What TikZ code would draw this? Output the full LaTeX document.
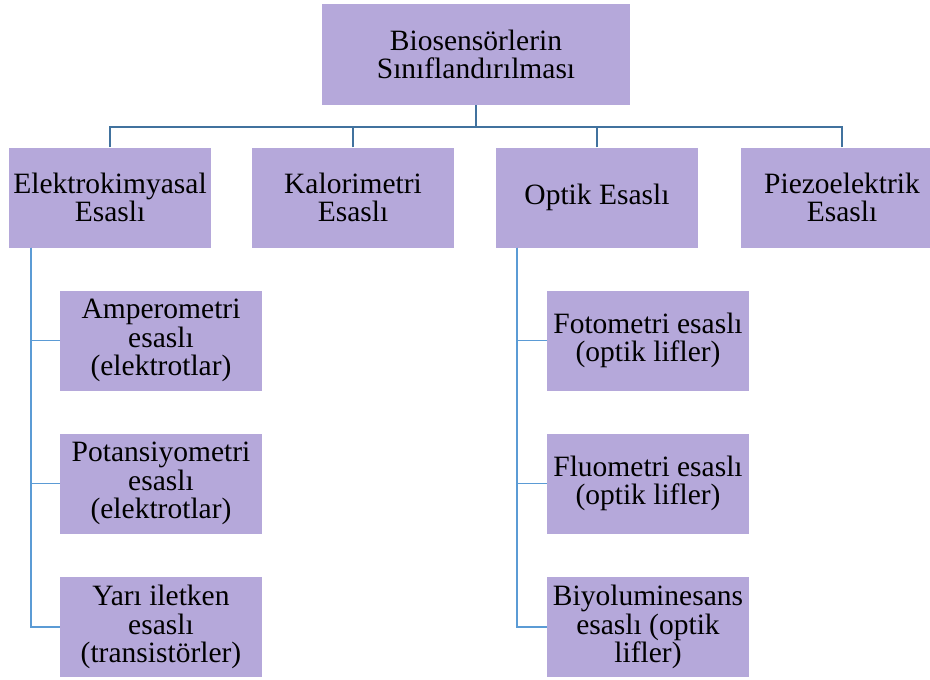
\documentclass[tikz,border=0pt]{standalone}
\usepackage{fontspec}
\setmainfont{Liberation Serif}
\usepackage{tikz}
\definecolor{boxfill}{HTML}{B5A8DA}
\definecolor{busline}{HTML}{41729E}
\definecolor{subline}{HTML}{5B9BD5}

\begin{document}
\begin{tikzpicture}[x=1pt, y=-1pt, align=center,
		box/.style = {fill=boxfill, draw=none, inner sep=1pt,
			minimum width=202pt, minimum height=100pt,
			font=\fontsize{29.5}{28.5}\selectfont},
		bus/.style = {draw=busline, line width=1.8pt},
		sub/.style = {draw=subline, line width=1.8pt}
	]
		\useasboundingbox (0,0) rectangle (930,680);
		\clip (0,0) rectangle (930,680);

		\node[box, minimum width=308pt, minimum height=101pt] (top) at (476,54.5) {Biosensörlerin\\Sınıflandırılması};

		\node[box] (elk) at (110,197.5) {Elektrokimyasal\\Esaslı};
		\node[box] (kal) at (353,197.5) {Kalorimetri\\Esaslı};
		\node[box] (opt) at (597,197.5) {Optik Esaslı};
		\node[box] (pie) at (842,197.5) {Piezoelektrik\\Esaslı};

		\node[box] (amp) at (161,340.5) {Amperometri\\esaslı\\(elektrotlar)};
		\node[box] (pot) at (161,483.5) {Potansiyometri\\esaslı\\(elektrotlar)};
		\node[box] (yar) at (161,627) {Yarı iletken\\esaslı\\(transistörler)};

		\node[box] (fot) at (648,340.5) {Fotometri esaslı\\(optik lifler)};
		\node[box] (flu) at (648,483.5) {Fluometri esaslı\\(optik lifler)};
		\node[box] (biy) at (648,627) {Biyoluminesans\\esaslı (optik\\lifler)};

		% ana dal
		\coordinate (mid) at (476,127);
		\draw[bus] (top.south) -- (mid);
		\draw[bus] (elk.north) |- (mid);
		\draw[bus] (kal.north) |- (mid);
		\draw[bus] (opt.north) |- (mid);
		\draw[bus] (pie.north) |- (mid);

		% alt dallar
		\coordinate (elkroot) at (31,247.5);
		\coordinate (optroot) at (517,247.5);
		\foreach \n in {amp, pot, yar}
			\draw[sub] (elkroot) |- (\n.west);
		\foreach \n in {fot, flu, biy}
			\draw[sub] (optroot) |- (\n.west);
	\end{tikzpicture}
\end{document}
